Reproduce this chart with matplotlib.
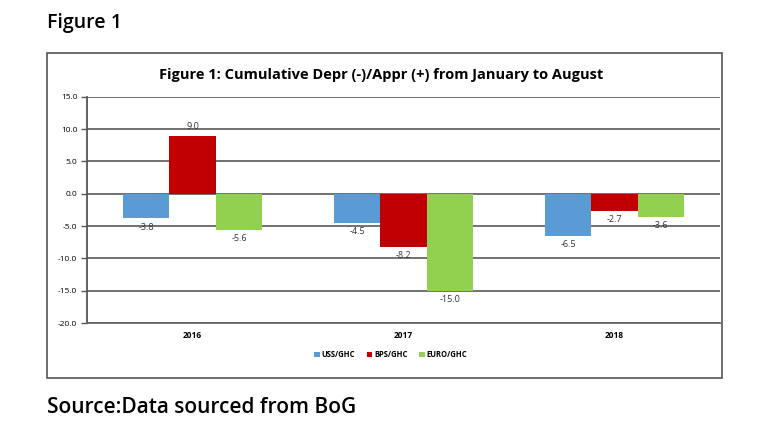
import numpy as np
import matplotlib.pyplot as plt
from matplotlib.patches import Rectangle

plt.rcParams['font.family'] = ['Open Sans', 'DejaVu Sans']

years = ['2016', '2017', '2018']
usd = [-3.8, -4.5, -6.5]
gbp = [9.0, -8.2, -2.7]
eur = [-5.6, -15.0, -3.6]
series_names = ['USS/GHC', 'BPS/GHC', 'EURO/GHC']
colors = ['#5B9BD5', '#C00000', '#92D050']

fig = plt.figure(figsize=(7.7, 4.42), dpi=100)

# outer chart frame
fig.patches.append(Rectangle((0.061, 0.145), 0.877, 0.735, transform=fig.transFigure,
                             fill=False, edgecolor='#555555', linewidth=1.2))

fig.text(0.061, 0.948, 'Figure 1', fontsize=14, fontweight='semibold', va='center')
fig.text(0.061, 0.077, 'Source:Data sourced from BoG', fontsize=15,
         fontweight='semibold', va='center')

ax = fig.add_axes([0.113, 0.269, 0.822, 0.512])
x = np.arange(len(years))
w = 0.22
for i, (vals, name, c) in enumerate(zip([usd, gbp, eur], series_names, colors)):
    bars = ax.bar(x + (i - 1) * w, vals, width=w, color=c, label=name, zorder=3)
    ax.bar_label(bars, labels=[f'{v:.1f}' for v in vals], fontsize=6.5, padding=3,
                 color='#333333')

ax.set_ylim(-20, 15)
ax.set_yticks(np.arange(-20, 16, 5))
ax.set_yticklabels([f'{v:.1f}' for v in np.arange(-20, 16, 5)], fontsize=6)
ax.set_xlim(-0.5, 2.5)
ax.set_xticks(x)
ax.set_xticklabels(years, fontsize=6, fontweight='bold')
ax.tick_params(axis='x', length=0, pad=6)
ax.tick_params(axis='y', length=4, width=1.0, color='#555555', pad=3)
ax.yaxis.grid(True, color='#666666', linewidth=1.3, zorder=0)
for s in ['top', 'right']:
    ax.spines[s].set_visible(False)
ax.spines['left'].set_color('#555555')
ax.spines['left'].set_linewidth(1.3)
ax.spines['bottom'].set_color('#666666')
ax.spines['bottom'].set_linewidth(1.3)

ax.set_title('Figure 1: Cumulative Depr (-)/Appr (+) from January to August',
             fontsize=10.5, fontweight='bold', pad=13, x=0.465)

ax.legend(loc='upper center', bbox_to_anchor=(0.48, -0.09), ncol=3, frameon=False,
          handlelength=0.7, handleheight=0.7, handletextpad=0.3,
          columnspacing=1.5, prop={'weight': 'bold', 'size': 5.5})

fig.savefig('out.png', dpi=100)
